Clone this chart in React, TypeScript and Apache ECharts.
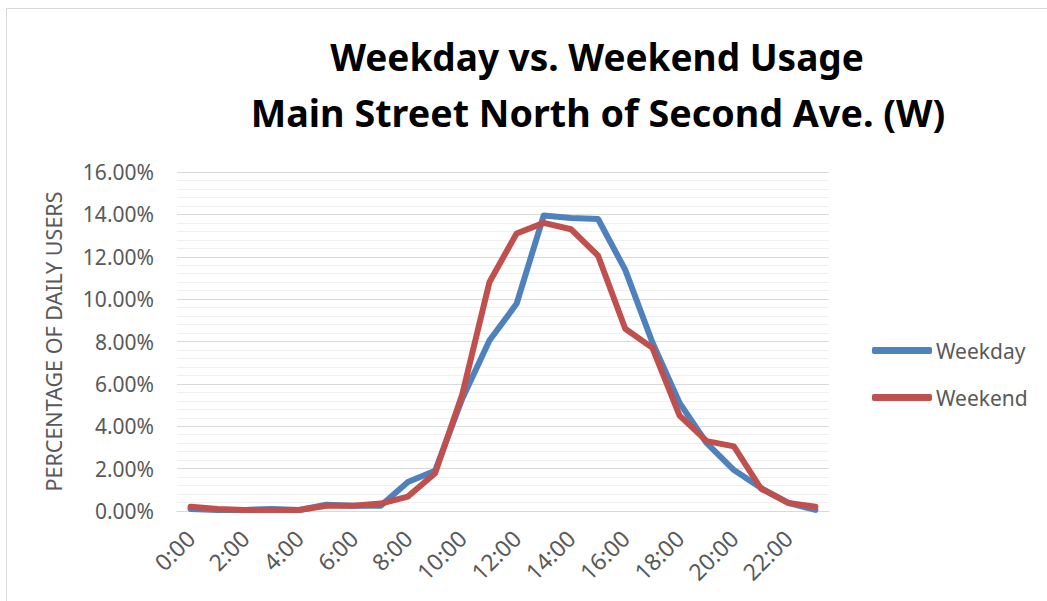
import React, { useEffect, useRef } from "react";
import * as echarts from "echarts";

const hours: string[] = [
  "0:00", "1:00", "2:00", "3:00", "4:00", "5:00", "6:00", "7:00",
  "8:00", "9:00", "10:00", "11:00", "12:00", "13:00", "14:00", "15:00",
  "16:00", "17:00", "18:00", "19:00", "20:00", "21:00", "22:00", "23:00",
];

// percentage of daily users
const weekday: number[] = [
  0.1, 0.05, 0.05, 0.1, 0.05, 0.3, 0.25, 0.25,
  1.37, 1.9, 5.3, 8.05, 9.78, 13.95, 13.83, 13.78,
  11.38, 7.95, 5.1, 3.2, 1.93, 1.08, 0.38, 0.05,
];
const weekend: number[] = [
  0.2, 0.1, 0.05, 0.05, 0.05, 0.25, 0.25, 0.35,
  0.68, 1.78, 5.5, 10.8, 13.1, 13.6, 13.3, 12.05,
  8.6, 7.7, 4.5, 3.3, 3.05, 1.05, 0.38, 0.2,
];

const titleLines: string[] = [
  "Weekday vs. Weekend Usage",
  "Main Street North of Second Ave. (W)",
];

const FONT = "'Noto Sans', sans-serif";
const GREY = "#595959";

export default function App() {
  const ref = useRef<HTMLDivElement>(null);
  useEffect(() => {
    if (!ref.current) return;
    const chart = echarts.init(ref.current, null, { renderer: "svg" });
    chart.setOption({
      animation: false,
      backgroundColor: "#ffffff",
      textStyle: { fontFamily: FONT },
      graphic: [
        {
          type: "rect",
          shape: { x: 6.5, y: 8.5, width: 1100, height: 700 },
          style: { fill: "none", stroke: "#d9d9d9", lineWidth: 1 },
          silent: true,
        },
        {
          type: "text",
          x: 597,
          y: 56,
          style: {
            text: titleLines[0],
            fontFamily: FONT,
            fontWeight: "bold",
            fontSize: 37,
            fill: "#000000",
            textAlign: "center",
            textVerticalAlign: "middle",
          },
        },
        {
          type: "text",
          x: 598,
          y: 112,
          style: {
            text: titleLines[1],
            fontFamily: FONT,
            fontWeight: "bold",
            fontSize: 37.7,
            fill: "#000000",
            textAlign: "center",
            textVerticalAlign: "middle",
          },
        },
      ],
      grid: { left: 177, right: 218, top: 172, bottom: 90, containLabel: false },
      legend: {
        orient: "vertical",
        left: 872,
        top: 340,
        padding: 0,
        itemWidth: 60,
        itemHeight: 7,
        itemGap: 26,
        icon: "roundRect",
        textStyle: { fontFamily: FONT, fontSize: 21, color: GREY, padding: [0, 0, 0, -1] },
        data: ["Weekday", "Weekend"],
      },
      xAxis: {
        type: "category",
        data: hours,
        boundaryGap: true,
        axisLine: { show: true, lineStyle: { color: "#d9d9d9", width: 1 } },
        axisTick: { show: false },
        axisLabel: {
          interval: 1,
          rotate: 45,
          margin: 23,
          fontFamily: FONT,
          fontSize: 23,
          color: GREY,
        },
        splitLine: { show: false },
      },
      yAxis: {
        type: "value",
        min: 0,
        max: 16,
        interval: 2,
        name: "PERCENTAGE OF DAILY USERS",
        nameLocation: "middle",
        nameRotate: 90,
        nameGap: 113,
        nameTextStyle: { fontFamily: FONT, fontSize: 21.5, color: GREY },
        axisLine: { show: false },
        axisTick: { show: false },
        axisLabel: {
          margin: 23,
          fontFamily: FONT,
          fontSize: 21,
          color: GREY,
          formatter: (v: number) => v.toFixed(2) + "%",
        },
        splitLine: { show: true, lineStyle: { color: "#d9d9d9", width: 1 } },
        minorTick: { show: false, splitNumber: 5 },
        minorSplitLine: { show: true, lineStyle: { color: "#f0f0f0", width: 1 } },
      },
      series: [
        {
          name: "Weekday",
          type: "line",
          data: weekday,
          symbol: "none",
          color: "#4f81bd",
          lineStyle: { width: 6, color: "#4f81bd", cap: "round", join: "round" },
        },
        {
          name: "Weekend",
          type: "line",
          data: weekend,
          symbol: "none",
          color: "#c0504d",
          lineStyle: { width: 6, color: "#c0504d", cap: "round", join: "round" },
        },
      ],
    });
    return () => chart.dispose();
  }, []);
  return (
    <div
      ref={ref}
      style={{ position: "fixed", left: 0, top: 0, width: 1047, height: 601 }}
    />
  );
}
